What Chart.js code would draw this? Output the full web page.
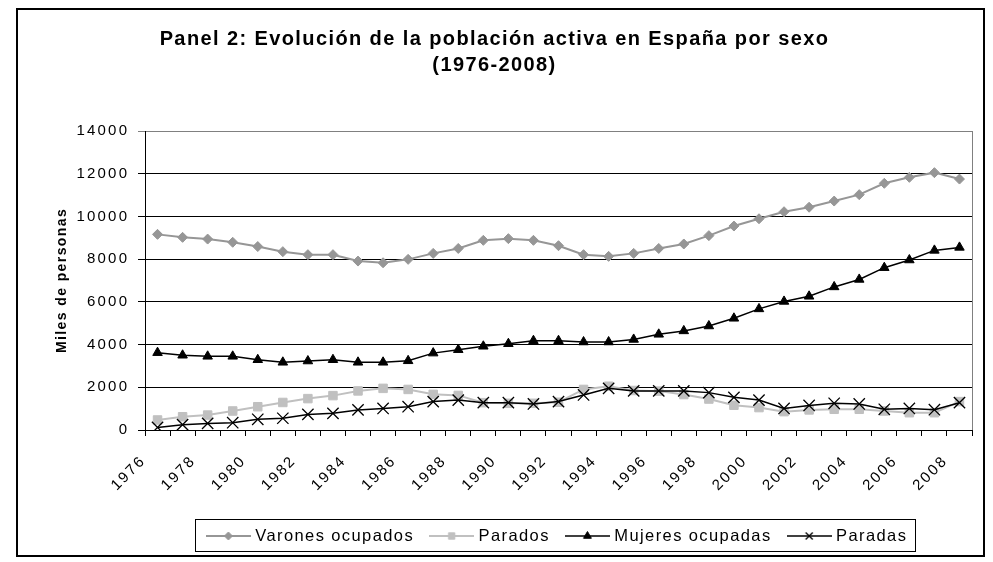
<!DOCTYPE html>
<html><head><meta charset="utf-8">
<script src="https://cdn.jsdelivr.net/npm/chart.js@4"></script>
<style>html,body{margin:0;padding:0;background:#fff}</style>
</head><body>
<canvas id="c" width="993" height="562" style="width:993px;height:562px;display:block"></canvas>
<script>
const years = ['1976','1977','1978','1979','1980','1981','1982','1983','1984','1985','1986','1987','1988','1989','1990','1991','1992','1993','1994','1995','1996','1997','1998','1999','2000','2001','2002','2003','2004','2005','2006','2007','2008'];
const varonesOcupados = [9160,9020,8940,8790,8590,8350,8210,8210,7910,7830,7990,8270,8500,8880,8960,8880,8630,8210,8130,8270,8500,8710,9100,9550,9890,10220,10430,10720,11020,11550,11830,12050,11750];
const parados = [470,620,700,890,1090,1290,1470,1610,1830,1950,1900,1670,1620,1280,1250,1250,1300,1900,2050,1850,1820,1660,1450,1160,1050,860,940,970,970,890,810,810,1330];
const mujeresOcupadas = [3620,3500,3450,3450,3290,3170,3230,3290,3170,3170,3240,3600,3760,3920,4040,4180,4180,4120,4120,4240,4480,4640,4870,5230,5670,6020,6260,6700,7050,7600,7960,8410,8550];
const paradas = [120,250,310,340,500,550,730,780,940,1010,1090,1330,1400,1280,1280,1220,1330,1640,1950,1830,1830,1830,1750,1530,1400,1010,1150,1250,1220,970,1010,950,1280];
const yTicks = [0,2000,4000,6000,8000,10000,12000,14000];
const seriesNames = ['Varones ocupados','Parados','Mujeres ocupadas','Paradas'];

const FAM = "'Liberation Sans', Arial, sans-serif";
const SPACING_TEXT = '1.4px';   // title, legend, axis title
const SPACING_TICKS = '2.2px';  // tick labels
const GREY = '#969696', LGREY = '#c0c0c0', BLACK = '#000000';

const styles = [
  {color: GREY, style: 'rectRot', r: 5, lr: 4, bw: 1, lw: 2},
  {color: LGREY, style: 'rect', r: 6, lr: 4.5, bw: 1, lw: 2},
  {color: BLACK, style: 'triangle', r: 5.5, lr: 4.5, bw: 1, lw: 1.5},
  {color: BLACK, style: 'crossRot', r: 8, lr: 5, bw: 1.3, lw: 1.5}
];

function makeSample(s) {
  const cv = document.createElement('canvas');
  cv.width = 45; cv.height = 14;
  const c = cv.getContext('2d');
  c.strokeStyle = s.color; c.lineWidth = s.lw;
  c.beginPath(); c.moveTo(0, 7); c.lineTo(45, 7); c.stroke();
  c.fillStyle = s.color; c.strokeStyle = s.color; c.lineWidth = s.bw;
  Chart.helpers.drawPoint(c, {pointStyle: s.style, radius: s.lr, rotation: 0, borderWidth: s.bw}, 22.5, 7);
  return cv;
}
const samples = styles.map(makeSample);
const PSW = 37.3;

const dataArrays = [varonesOcupados, parados, mujeresOcupadas, paradas];
const datasets = dataArrays.map((d, i) => ({
  label: seriesNames[i],
  data: d,
  borderColor: styles[i].color,
  backgroundColor: styles[i].color,
  borderWidth: styles[i].lw,
  pointStyle: styles[i].style,
  pointRadius: styles[i].r,
  pointHoverRadius: styles[i].r,
  pointBackgroundColor: styles[i].color,
  pointBorderColor: styles[i].color,
  pointBorderWidth: styles[i].bw,
  tension: 0,
  fill: false,
  order: 4 - i
}));

const spacingPlugin = {
  id: 'spacing',
  beforeLayout(chart) { chart.ctx.letterSpacing = SPACING_TEXT; },
  beforeDraw(chart) { chart.ctx.letterSpacing = SPACING_TEXT; },
  afterDatasetsDraw(chart) { chart.ctx.letterSpacing = SPACING_TICKS; }
};

const framePlugin = {
  id: 'frame',
  afterDraw(chart) {
    const ctx = chart.ctx, a = chart.chartArea;
    ctx.save();
    ctx.letterSpacing = '0px';
    ctx.strokeStyle = '#808080'; ctx.lineWidth = 1;
    ctx.beginPath(); ctx.moveTo(Math.round(a.right) + 0.5, a.top); ctx.lineTo(Math.round(a.right) + 0.5, a.bottom); ctx.stroke();
    const hb = chart.legend.legendHitBoxes;
    if (hb && hb.length) {
      const first = hb[0], last = hb[hb.length - 1];
      const l = first.left + PSW / 2 - 22.5 - 10.9;
      const r = last.left + last.width - 1.4 + 9;
      const t = 519, b = 551;
      ctx.strokeStyle = '#000'; ctx.lineWidth = 1;
      ctx.strokeRect(Math.round(l) + 0.5, t + 0.5, Math.round(r - l), b - t);
    }
    ctx.strokeStyle = '#000'; ctx.lineWidth = 2;
    ctx.strokeRect(17, 9, 967, 547);
    ctx.restore();
  }
};

new Chart(document.getElementById('c'), {
  type: 'line',
  data: {labels: years, datasets},
  plugins: [spacingPlugin, framePlugin],
  options: {
    responsive: false,
    animation: false,
    devicePixelRatio: 1,
    layout: {padding: {left: 17, right: 21, top: 9, bottom: 7.75}},
    plugins: {
      tooltip: {enabled: false},
      title: {
        display: true,
        text: ['Panel 2: Evolución de la población activa en España por sexo', '(1976-2008)'],
        color: '#000',
        font: {family: FAM, size: 20, weight: 'bold', lineHeight: 1.3},
        padding: {top: 17.5, bottom: 52.5}
      },
      legend: {
        position: 'bottom',
        fullSize: false,
        labels: {
          color: '#000',
          font: {family: FAM, size: 16.5},
          usePointStyle: true,
          pointStyleWidth: PSW,
          padding: 18.95,
          generateLabels(chart) {
            const items = Chart.defaults.plugins.legend.labels.generateLabels(chart);
            items.sort((a, b) => a.datasetIndex - b.datasetIndex);
            items.forEach(it => { it.pointStyle = samples[it.datasetIndex]; });
            return items;
          }
        }
      }
    },
    scales: {
      x: {
        type: 'category',
        offset: true,
        grid: {offset: true, drawOnChartArea: false, drawTicks: true, tickLength: 6, color: '#000', lineWidth: 1},
        border: {color: '#000', width: 1},
        ticks: {
          z: 1,
          autoSkip: false, maxRotation: 45, minRotation: 45,
          font: {family: FAM, size: 15}, color: '#000', padding: 16, labelOffset: -14,
          callback: (v, i) => (i % 2 === 0 ? years[i] : '')
        },
        afterFit(scale) { scale.height = 78.8; }
      },
      y: {
        min: 0, max: 14000,
        afterBuildTicks(scale) { scale.ticks = yTicks.map(v => ({value: v})); },
        grid: {
          color: c => (c.tick && c.tick.value === 14000 ? '#808080' : '#000'),
          lineWidth: 1, tickLength: 7, drawTicks: true
        },
        border: {color: '#000', width: 1},
        ticks: {z: 1, font: {family: FAM, size: 15}, color: '#000', padding: 8.8, callback: v => String(v)},
        title: {
          display: true, text: 'Miles de personas', color: '#000',
          font: {family: FAM, size: 14, weight: 'bold'},
          padding: {top: 36.6, bottom: 0}
        },
        afterFit(scale) { scale.width = 128; }
      }
    }
  }
});
</script>
</body></html>
